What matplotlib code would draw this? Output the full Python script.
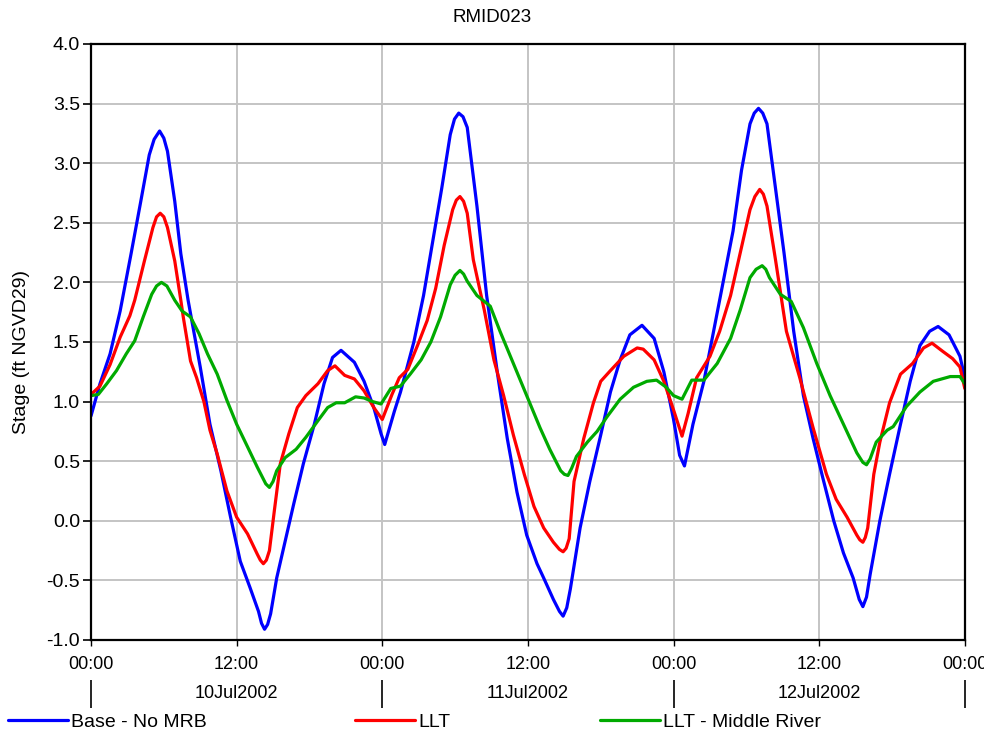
import numpy as np
import matplotlib
matplotlib.use('Agg')
import matplotlib.pyplot as plt

# Stage at RMID023, hours from 00:00 10Jul2002
base_hours = [0, 0.74, 1.57, 2.4, 3.3, 4.1, 4.8, 5.2, 5.65, 6.0, 6.3, 6.9, 7.4, 8.0, 9.0, 9.8, 10.7,
              11.5, 12.3, 13.1, 13.8, 14.05, 14.3, 14.55, 14.8, 15.3, 16.0, 16.7, 17.5, 18.4, 19.2,
              19.9, 20.6, 21.7, 22.5, 23.3, 23.9, 24.2, 25.0, 25.5, 26.6, 27.4, 28.25, 28.9, 29.6,
              29.95, 30.3, 30.65, 31.0, 31.8, 32.6, 33.5, 34.3, 35.1, 35.9, 36.75, 37.3, 38.1,
              38.6, 38.9, 39.2, 39.5, 40.3, 41.1, 42.0, 42.8, 43.6, 44.4, 45.4, 46.4, 47.2, 48.0,
              48.5, 48.9, 49.6, 50.5, 51.3, 52.1, 52.9, 53.6, 54.3, 54.65, 55.0, 55.35, 55.7, 56.4,
              57.1, 57.9, 58.7, 59.5, 60.3, 61.2, 62.0, 62.8, 63.3, 63.6, 63.9, 64.2, 65.0, 65.8,
              66.7, 67.5, 68.3, 69.1, 69.8, 70.7, 71.6, 72.0]
base_stage = [0.88, 1.15, 1.40, 1.76, 2.24, 2.68, 3.07, 3.20, 3.27, 3.21, 3.10, 2.68, 2.24, 1.85, 1.29, 0.81, 0.42,
              0.03, -0.34, -0.56, -0.76, -0.86, -0.91, -0.87, -0.78, -0.48, -0.17, 0.14, 0.48, 0.81, 1.15,
              1.37, 1.43, 1.33, 1.17, 0.95, 0.73, 0.64, 0.92, 1.08, 1.50, 1.89, 2.40, 2.79, 3.24,
              3.37, 3.42, 3.39, 3.30, 2.64, 1.89, 1.23, 0.69, 0.24, -0.12, -0.36, -0.48, -0.66,
              -0.76, -0.80, -0.73, -0.57, -0.06, 0.33, 0.72, 1.08, 1.35, 1.56, 1.64, 1.53, 1.25, 0.85,
              0.55, 0.46, 0.81, 1.17, 1.59, 2.01, 2.43, 2.94, 3.33, 3.42, 3.46, 3.42, 3.33, 2.79,
              2.25, 1.59, 1.05, 0.69, 0.36, 0.00, -0.27, -0.48, -0.66, -0.72, -0.64, -0.45, 0.00, 0.39,
              0.81, 1.17, 1.47, 1.59, 1.63, 1.56, 1.38, 1.20]

llt_hours = [0, 0.74, 1.57, 2.4, 3.2, 3.6, 4.4, 5.1, 5.4, 5.7, 6.0, 6.3, 6.9, 7.4, 7.6, 8.2, 8.7,
             9.3, 9.8, 10.4, 11.2, 12.0, 12.9, 13.7, 13.95, 14.2, 14.45, 14.7, 15.1, 15.6, 16.3,
             17.0, 17.7, 18.7, 19.5, 20.1, 20.9, 21.7, 22.5, 23.3, 24.0, 24.8, 25.4, 26.1, 26.9,
             27.7, 28.4, 29.1, 29.8, 30.1, 30.4, 30.7, 31.0, 31.5, 32.4, 33.2, 34.0, 34.8, 35.7,
             36.5, 37.3, 38.1, 38.6, 38.9, 39.15, 39.4, 39.8, 40.6, 41.4, 42.0, 42.8, 43.9, 45.0,
             45.5, 46.4, 47.2, 48.0, 48.7, 49.2, 49.9, 51.0, 51.8, 52.7, 53.5, 54.3, 54.7, 55.1,
             55.4, 55.7, 56.4, 57.3, 58.4, 59.5, 60.6, 61.4, 62.3, 63.1, 63.35, 63.6, 63.8, 64.0,
             64.5, 65.0, 65.8, 66.7, 67.7, 68.6, 69.3, 70.2, 71.0, 71.6, 72.0]
llt_stage = [1.06, 1.13, 1.31, 1.54, 1.72, 1.85, 2.18, 2.46, 2.55, 2.58, 2.55, 2.46, 2.18, 1.85, 1.71, 1.34, 1.20,
             1.00, 0.76, 0.56, 0.25, 0.03, -0.11, -0.28, -0.33, -0.36, -0.33, -0.25, 0.08, 0.48, 0.73,
             0.95, 1.05, 1.15, 1.26, 1.30, 1.22, 1.19, 1.09, 0.95, 0.85, 1.06, 1.20, 1.27, 1.47,
             1.68, 1.95, 2.31, 2.61, 2.69, 2.72, 2.68, 2.58, 2.19, 1.77, 1.35, 1.05, 0.72, 0.39,
             0.12, -0.06, -0.18, -0.24, -0.26, -0.23, -0.15, 0.33, 0.69, 0.99, 1.17, 1.26, 1.38, 1.45,
             1.44, 1.35, 1.17, 0.93, 0.71, 0.90, 1.20, 1.38, 1.59, 1.89, 2.25, 2.61, 2.72, 2.78,
             2.74, 2.64, 2.19, 1.59, 1.20, 0.78, 0.39, 0.18, 0.03, -0.12, -0.16, -0.18, -0.14, -0.06,
             0.39, 0.66, 0.99, 1.23, 1.32, 1.45, 1.49, 1.42, 1.36, 1.29, 1.11]

mr_hours = [0, 0.6, 1.3, 2.1, 2.9, 3.6, 4.3, 5.0, 5.4, 5.8, 6.25, 6.9, 7.5, 8.2, 8.9, 9.6, 10.4,
            11.2, 12.0, 12.9, 13.7, 14.4, 14.7, 15.0, 15.3, 16.0, 16.9, 17.7, 18.7, 19.5, 20.2,
            20.9, 21.8, 22.5, 23.2, 23.9, 24.7, 25.5, 26.3, 27.2, 28.0, 28.8, 29.6, 30.0, 30.4,
            30.7, 31.0, 31.8, 32.9, 33.7, 34.8, 35.9, 37.0, 37.8, 38.7, 39.0, 39.3, 39.6, 40.0,
            40.9, 41.7, 42.5, 43.6, 44.7, 45.8, 46.6, 47.4, 48.0, 48.7, 49.5, 50.5, 51.6, 52.7,
            53.5, 54.3, 54.8, 55.3, 55.6, 55.9, 56.8, 57.7, 58.7, 59.8, 60.9, 62.0, 63.1, 63.6,
            63.9, 64.2, 64.7, 65.6, 66.1, 67.2, 68.3, 69.4, 70.8, 71.6, 72.0]
mr_stage = [1.05, 1.06, 1.15, 1.26, 1.40, 1.51, 1.71, 1.90, 1.97, 2.00, 1.97, 1.85, 1.76, 1.71, 1.57, 1.40, 1.23,
            1.01, 0.81, 0.62, 0.45, 0.31, 0.28, 0.33, 0.42, 0.53, 0.60, 0.70, 0.84, 0.95, 0.99,
            0.99, 1.04, 1.03, 1.00, 0.98, 1.11, 1.13, 1.23, 1.35, 1.50, 1.71, 1.98, 2.06, 2.10,
            2.07, 2.01, 1.89, 1.80, 1.59, 1.32, 1.05, 0.78, 0.60, 0.42, 0.39, 0.38, 0.44, 0.54,
            0.66, 0.75, 0.87, 1.02, 1.12, 1.17, 1.18, 1.12, 1.05, 1.02, 1.18, 1.18, 1.32, 1.53,
            1.77, 2.04, 2.11, 2.14, 2.11, 2.04, 1.90, 1.84, 1.62, 1.32, 1.05, 0.81, 0.57, 0.49,
            0.47, 0.52, 0.66, 0.76, 0.79, 0.96, 1.08, 1.17, 1.21, 1.21, 1.15]

time_ticks = [0, 12, 24, 36, 48, 60, 72]
time_labels = ['00:00', '12:00', '00:00', '12:00', '00:00', '12:00', '00:00']
day_edges = [0, 24, 48, 72]
day_mids = [12, 36, 60]
day_labels = ['10Jul2002', '11Jul2002', '12Jul2002']

plt.rcParams['font.family'] = ['Liberation Sans', 'DejaVu Sans']

fig = plt.figure(figsize=(9.84, 7.38), dpi=100)
ax = fig.add_axes([0.0925, 0.1328, 0.888, 0.8076])

line_kw = dict(lw=2.3, solid_joinstyle='round', solid_capstyle='round')
l1, = ax.plot(base_hours, base_stage, color='#0000ff', **line_kw)
l2, = ax.plot(llt_hours, llt_stage, color='#ff0000', **line_kw)
l3, = ax.plot(mr_hours, mr_stage, color='#00aa00', **line_kw)

ax.set_xlim(0, 72)
ax.set_ylim(-1.0, 4.0)
yt = np.arange(-1.0, 4.01, 0.5)
ax.set_yticks(yt)
ax.set_yticklabels(['%.1f' % v for v in yt], fontsize=14)
ax.set_xticks(time_ticks)
ax.set_xticklabels(time_labels, fontsize=13)
ax.tick_params(axis='y', length=6, width=1.2, direction='out', pad=2)
ax.tick_params(axis='x', length=4.5, width=1.0, direction='out', pad=7)
ax.grid(True, color='#c4c4c4', lw=1.4)
ax.set_axisbelow(True)
for s in ax.spines.values():
    s.set_linewidth(1.6)
    s.set_color('black')

# date row under the time labels
sec = ax.secondary_xaxis(-0.09)
sec.set_xticks(day_edges)
sec.set_xticklabels(['', '', '', ''])
sec.set_xticks(day_mids, minor=True)
sec.set_xticklabels(day_labels, minor=True, fontsize=13)
sec.tick_params(axis='x', which='major', length=20, width=1.2, direction='inout')
sec.tick_params(axis='x', which='minor', length=0, pad=-6)
sec.spines['bottom'].set_visible(False)

fig.suptitle('RMID023', y=0.988, fontsize=13.5)
fig.text(0.022, 1 - 352 / 738, 'Stage (ft NGVD29)', rotation=90, va='center', ha='center', fontsize=14)

# legend along the bottom edge
for line, label, x0 in [(l1, 'Base - No MRB', 0.0), (l2, 'LLT', 0.353), (l3, 'LLT - Middle River', 0.602)]:
    fig.legend([line], [label], loc='lower left', bbox_to_anchor=(x0, -0.001), frameon=False,
               handlelength=3.1, handletextpad=0.15, borderaxespad=0.0,
               prop={'size': 14})

fig.savefig('out.png', dpi=100)
